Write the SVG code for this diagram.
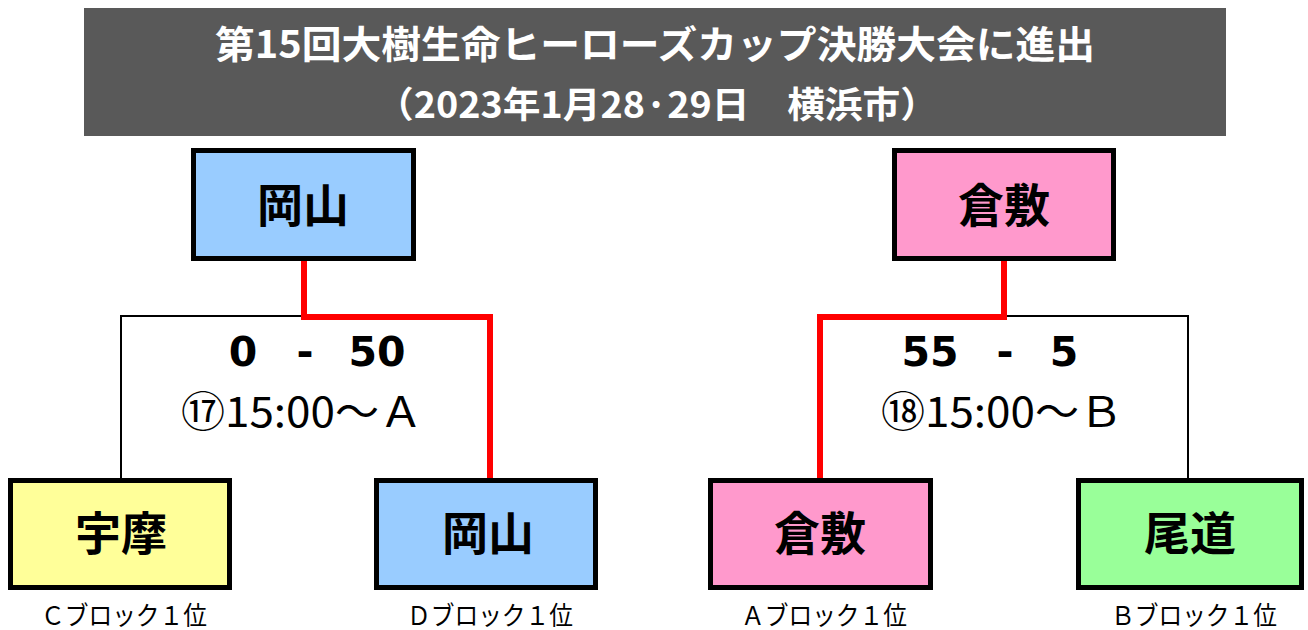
<svg xmlns="http://www.w3.org/2000/svg" width="1308" height="630" viewBox="0 0 1308 630">
<style>
.jp{font-family:"Noto Sans CJK JP","Noto Sans",sans-serif}
.title{font-weight:bold;fill:#fff}
.box{stroke:#000;stroke-width:5}
.name{font-family:"Noto Sans CJK JP",sans-serif;font-weight:bold;font-size:46px;text-anchor:middle;fill:#000}
.score{font-family:"DejaVu Sans","Noto Sans CJK JP",sans-serif;font-weight:bold;font-size:41px;text-anchor:middle;fill:#000}
.time{font-family:"Noto Sans CJK JP",sans-serif;font-size:42px;fill:#000}
.lbl{font-family:"Noto Sans CJK JP",sans-serif;font-size:26px;fill:#000}
.red{fill:none;stroke:#FF0000;stroke-width:6}
.blk{fill:none;stroke:#000;stroke-width:2}
</style>
<rect x="0" y="0" width="1308" height="630" fill="#fff"/>
<g id="title">
<rect x="84" y="8" width="1142" height="128" fill="#595959"/>
<text class="jp title" x="215" y="58" font-size="38" textLength="880" lengthAdjust="spacingAndGlyphs">第15回大樹生命ヒーローズカップ決勝大会に進出</text>
<text class="jp title" x="376" y="118" font-size="36" textLength="562" lengthAdjust="spacingAndGlyphs">（2023年1月28·29日　横浜市）</text>
</g>
<g id="connectors">
<path class="blk" d="M121 480 V316 H304"/>
<path class="red" d="M304 261 V317 H490 V480"/>
<path class="blk" d="M1004 316 H1188 V480"/>
<path class="red" d="M1004 261 V317 H820 V480"/>
</g>
<g id="node-okayama-final">
<rect class="box" x="193.5" y="150.5" width="220" height="108" fill="#99CCFF"/>
<text class="name" x="303" y="222">岡山</text>
</g>
<g id="node-kurashiki-final">
<rect class="box" x="894.5" y="150.5" width="219" height="108" fill="#FF99CC"/>
<text class="name" x="1004" y="222">倉敷</text>
</g>
<g id="node-uma">
<rect class="box" x="10.5" y="480.5" width="219" height="107" fill="#FFFF99"/>
<text class="name" x="121" y="550">宇摩</text>
<text class="lbl" x="41" y="625" textLength="166" lengthAdjust="spacingAndGlyphs">Ｃブロック１位</text>
</g>
<g id="node-okayama">
<rect class="box" x="376.5" y="480.5" width="219" height="107" fill="#99CCFF"/>
<text class="name" x="488" y="550">岡山</text>
<text class="lbl" x="407" y="625" textLength="166" lengthAdjust="spacingAndGlyphs">Ｄブロック１位</text>
</g>
<g id="node-kurashiki">
<rect class="box" x="710.5" y="480.5" width="220" height="107" fill="#FF99CC"/>
<text class="name" x="820" y="550">倉敷</text>
<text class="lbl" x="741" y="625" textLength="166" lengthAdjust="spacingAndGlyphs">Ａブロック１位</text>
</g>
<g id="node-onomichi">
<rect class="box" x="1078.5" y="480.5" width="223" height="107" fill="#99FF99"/>
<text class="name" x="1190" y="550">尾道</text>
<text class="lbl" x="1111" y="625" textLength="166" lengthAdjust="spacingAndGlyphs">Ｂブロック１位</text>
</g>
<g id="match17">
<text class="score" x="243" y="366">0</text>
<text class="score" x="305" y="366">-</text>
<text class="score" x="377" y="366">50</text>
<text class="time" x="181" y="427" textLength="242" lengthAdjust="spacingAndGlyphs">⑰15:00～Ａ</text>
</g>
<g id="match18">
<text class="score" x="930" y="366">55</text>
<text class="score" x="1005" y="366">-</text>
<text class="score" x="1064" y="366">5</text>
<text class="time" x="881" y="427" textLength="242" lengthAdjust="spacingAndGlyphs">⑱15:00～Ｂ</text>
</g>
</svg>
